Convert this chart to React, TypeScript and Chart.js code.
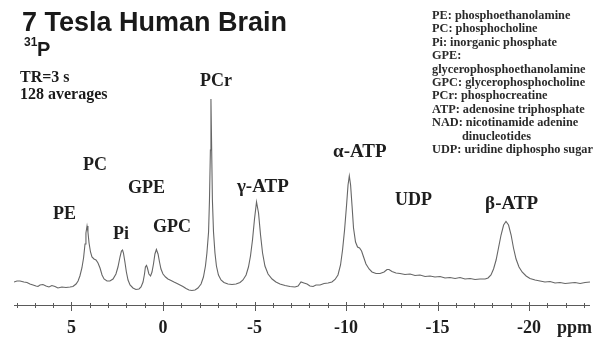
import React, { useEffect, useRef } from "react";
import { Chart, registerables } from "chart.js";

Chart.register(...registerables);

// Chemical shift (ppm) of each sample in the 31P spectrum
const shiftPpm = [
  8.14, 7.98, 7.81, 7.6, 7.43, 7.27, 7.1, 6.94, 6.83, 6.72, 6.56, 6.39, 6.23, 6.07, 5.9, 5.74, 5.52, 5.3, 5.08, 4.92,
  4.75, 4.64, 4.54, 4.43, 4.34, 4.26, 4.21, 4.15, 4.1, 4.04, 3.96, 3.88, 3.77, 3.66, 3.55, 3.44, 3.33, 3.22, 3.06, 2.9,
  2.73, 2.57, 2.46, 2.35, 2.27, 2.21, 2.16, 2.08, 2.0, 1.91, 1.8, 1.64, 1.48, 1.31, 1.2, 1.09, 1.01, 0.96, 0.9, 0.85,
  0.77, 0.68, 0.6, 0.52, 0.44, 0.36, 0.27, 0.19, 0.11, 0.0, -0.14, -0.27, -0.44, -0.6, -0.77, -0.93, -1.09, -1.26, -1.42, -1.58,
  -1.75, -1.91, -2.08, -2.21, -2.32, -2.4, -2.49, -2.54, -2.59, -2.62, -2.66, -2.7, -2.76, -2.84, -2.92, -3.03, -3.17, -3.33, -3.55, -3.77,
  -3.99, -4.21, -4.37, -4.54, -4.67, -4.78, -4.89, -5.0, -5.11, -5.22, -5.33, -5.44, -5.57, -5.74, -5.96, -6.17, -6.39, -6.67, -6.94, -7.21,
  -7.38, -7.54, -7.7, -7.87, -8.03, -8.2, -8.36, -8.58, -8.8, -9.02, -9.23, -9.4, -9.56, -9.7, -9.81, -9.92, -10.03, -10.11, -10.18, -10.25,
  -10.33, -10.41, -10.52, -10.63, -10.74, -10.85, -10.96, -11.09, -11.26, -11.42, -11.64, -11.86, -12.08, -12.24, -12.35, -12.51, -12.73, -12.95, -13.22, -13.5,
  -13.77, -14.04, -14.32, -14.59, -14.86, -15.14, -15.41, -15.68, -15.96, -16.23, -16.5, -16.78, -17.05, -17.32, -17.6, -17.76, -17.92, -18.06, -18.2, -18.33,
  -18.47, -18.61, -18.74, -18.88, -19.02, -19.15, -19.29, -19.45, -19.62, -19.84, -20.05, -20.33, -20.6, -20.87, -21.15, -21.42, -21.69, -21.97, -22.24, -22.51,
  -22.79, -23.06, -23.33,
];

// Signal intensity (a.u.) at each shift above
const signal = [
  23, 24, 24, 23, 22.5, 21, 20, 19, 18.5, 20, 20.5, 19, 18, 19.5, 18.5, 17, 18, 17.5, 18, 18.5,
  21, 24, 29, 37, 47, 61, 72, 79, 73, 62, 53, 48, 46, 45, 42, 37, 30, 26, 24, 24,
  26, 31, 38, 48, 54, 55, 52, 43, 33, 25, 20, 17, 15.5, 16, 18, 23, 31, 38, 39.5, 37,
  31, 29, 33, 41, 51, 55.5, 51, 43, 36, 31, 28, 26, 24.5, 23, 21.5, 20, 18.5, 16.5, 15, 14.5,
  15, 17, 21, 28, 39, 52, 73, 105, 155, 206, 155, 105, 73, 52, 39, 30, 25, 22.5, 21, 20.5,
  21, 22.5, 25, 30, 38, 49, 65, 86, 103, 92, 70, 52, 39, 31, 26, 23, 21, 19.5, 18.5, 18,
  19, 23, 22, 21, 19, 18.5, 20, 20, 21.5, 22, 23, 25.5, 30, 40, 55, 75, 100, 120, 129, 120,
  99, 77, 63, 58, 57, 54, 48, 41, 36, 33, 31.5, 31.5, 33, 35.5, 35.5, 33.5, 32, 31.5, 30.5, 31,
  29.5, 30, 28.5, 29, 28, 28.5, 27, 27.5, 26.5, 27.5, 26, 26.5, 25.5, 26, 26, 27, 30, 36, 45, 57,
  70, 80, 83.5, 80, 70, 57, 46, 38, 33, 29, 26.5, 25, 24, 23, 23.5, 22, 22.5, 21.5, 22, 22.5,
  21.5, 22.5, 23,
];

// Labelled tick values on the ppm axis
const majorTicks = [5, 0, -5, -10, -15, -20];

// Peak names with the (ppm, intensity) of their label's left baseline
const peakNames = ["PE", "PC", "Pi", "GPE", "GPC", "PCr", "γ-ATP", "α-ATP", "UDP", "β-ATP"];
const peakLabelPpm = [6.01, 4.37, 2.73, 1.91, 0.55, -2.02, -4.04, -9.29, -12.68, -17.6];
const peakLabelLevel = [86, 135, 66, 112, 73, 219, 113, 148, 100, 96];

// Abbreviation key
const keyLines = [
  "PE: phosphoethanolamine",
  "PC: phosphocholine",
  "Pi: inorganic phosphate",
  "GPE:",
  "glycerophosphoethanolamine",
  "GPC: glycerophosphocholine",
  "PCr: phosphocreatine",
  "ATP: adenosine triphosphate",
  "NAD: nicotinamide adenine",
  "dinucleotides",
  "UDP: uridine diphospho sugar",
];
const keyIndented = [false, false, false, false, false, false, false, false, false, true, false];

const SERIF = '"Liberation Serif", "Times New Roman", serif';
const SANS = '"Liberation Sans", Arial, sans-serif';

const decorations = {
  id: "spectrumDecorations",
  afterDraw(chart: any) {
    const ctx: CanvasRenderingContext2D = chart.ctx;
    const xs = chart.scales.x;
    const ys = chart.scales.y;
    const area = chart.chartArea;
    ctx.save();

    // ppm axis line with crossing ticks
    ctx.strokeStyle = "#5a5a5a";
    ctx.lineWidth = 1;
    ctx.beginPath();
    ctx.moveTo(area.left, area.bottom + 0.5);
    ctx.lineTo(area.right, area.bottom + 0.5);
    ctx.stroke();
    for (const t of xs.ticks) {
      const px = Math.round(xs.getPixelForValue(t.value)) + 0.5;
      const major = majorTicks.includes(t.value);
      ctx.beginPath();
      ctx.moveTo(px, area.bottom - (major ? 3 : 2));
      ctx.lineTo(px, area.bottom + (major ? 6 : 3));
      ctx.stroke();
    }

    // tick labels
    ctx.fillStyle = "#1e1e1e";
    ctx.font = `bold 18px ${SERIF}`;
    ctx.textAlign = "center";
    ctx.textBaseline = "alphabetic";
    for (const v of majorTicks) {
      ctx.fillText(String(v), xs.getPixelForValue(v), 333);
    }
    ctx.textAlign = "left";
    ctx.fillText("ppm", 557, 333);

    // peak labels
    peakNames.forEach((name, i) => {
      const isAtp = name.includes("ATP");
      ctx.font = `bold ${isAtp ? 19 : 18}px ${SERIF}`;
      ctx.fillText(name, xs.getPixelForValue(peakLabelPpm[i]), ys.getPixelForValue(peakLabelLevel[i]));
    });

    // title block
    ctx.fillStyle = "#1a1a1a";
    ctx.font = `bold 27px ${SANS}`;
    ctx.fillText("7 Tesla Human Brain", 22, 31);
    ctx.font = `bold 12px ${SANS}`;
    ctx.fillText("31", 24, 46);
    ctx.font = `bold 20px ${SANS}`;
    ctx.fillText("P", 37, 56);
    ctx.font = `bold 16px ${SERIF}`;
    ctx.fillText("TR=3 s", 20, 82);
    ctx.fillText("128 averages", 20, 99);

    // abbreviation key
    ctx.fillStyle = "#2a2a2a";
    ctx.font = `bold 12.3px ${SERIF}`;
    keyLines.forEach((line, i) => {
      ctx.fillText(line, keyIndented[i] ? 462 : 432, 19 + i * 13.4);
    });

    ctx.restore();
  },
};

export default function App() {
  const canvasRef = useRef<HTMLCanvasElement | null>(null);

  useEffect(() => {
    const canvas = canvasRef.current;
    if (!canvas) return;
    const chart = new Chart(canvas, {
      type: "line",
      data: {
        datasets: [
          {
            data: shiftPpm.map((x, i) => ({ x, y: signal[i] })),
            borderColor: "#666666",
            borderWidth: 1.1,
            pointRadius: 0,
            tension: 0,
            fill: false,
          },
        ],
      },
      options: {
        animation: false,
        responsive: false,
        layout: { padding: { left: 14, right: 8, top: 5, bottom: 0 } },
        scales: {
          x: {
            type: "linear",
            reverse: true,
            min: -23.33,
            max: 8.14,
            grid: { display: false },
            border: { display: false },
            ticks: { display: false, stepSize: 1, includeBounds: false },
            afterFit: (s: any) => {
              s.height = 34;
            },
          },
          y: { display: false, min: 0, max: 300 },
        },
        plugins: {
          legend: { display: false },
          tooltip: { enabled: false },
        },
      },
      plugins: [decorations],
    });
    return () => chart.destroy();
  }, []);

  return (
    <div style={{ position: "absolute", left: 0, top: 0, width: 598, height: 339, background: "#fff" }}>
      <canvas ref={canvasRef} width={598} height={339} style={{ display: "block" }} />
    </div>
  );
}
